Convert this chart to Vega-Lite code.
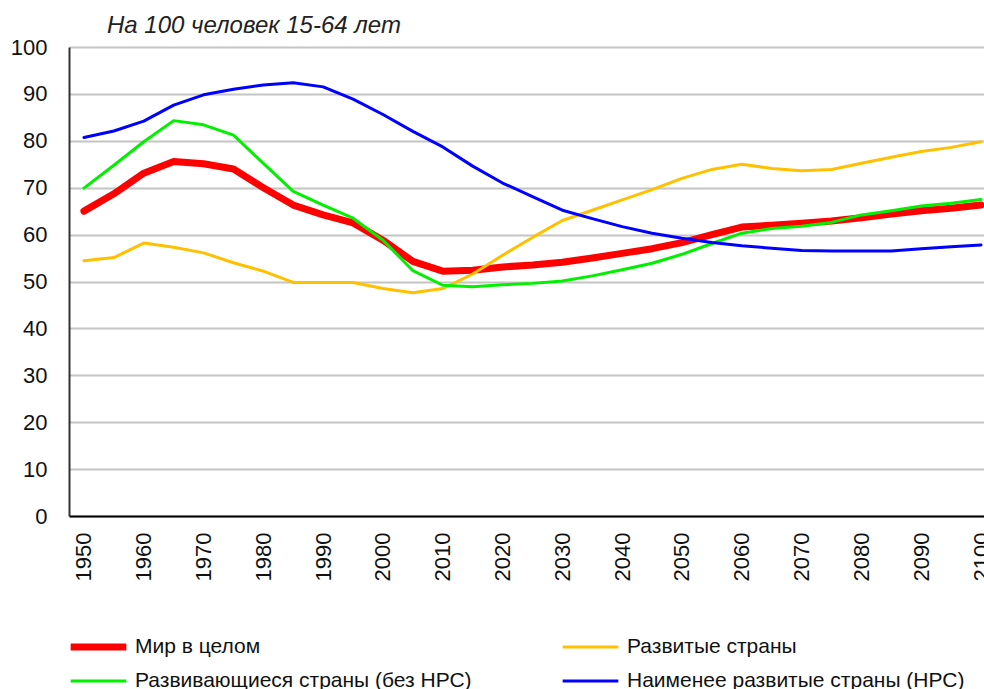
{
  "$schema": "https://vega.github.io/schema/vega-lite/v6.json",
  "autosize": {"type": "none"},
  "width": 915,
  "height": 469,
  "padding": {"left": 69, "top": 47, "right": 0, "bottom": 173},
  "background": "white",
  "config": {
    "view": {"stroke": null},
    "font": "Liberation Sans",
    "legend": {
      "title": null,
      "orient": "none",
      "direction": "horizontal",
      "legendX": -2,
      "legendY": 590,
      "columns": 2,
      "columnPadding": 87,
      "rowPadding": 13,
      "clipHeight": 20,
      "symbolType": "stroke",
      "symbolSize": 3100,
      "labelFontSize": 21,
      "labelColor": "#111111",
      "labelOffset": 5,
      "labelLimit": 500
    }
  },
  "title": {
    "text": "На 100 человек 15-64 лет",
    "anchor": "start",
    "frame": "group",
    "fontStyle": "italic",
    "fontWeight": "normal",
    "fontSize": 24,
    "color": "#222222",
    "dx": 38,
    "offset": -2
  },
  "data": {
    "values": [
      {"year": 1950, "s": "Мир в целом", "v": 65.0},
      {"year": 1955, "s": "Мир в целом", "v": 68.7},
      {"year": 1960, "s": "Мир в целом", "v": 73.1},
      {"year": 1965, "s": "Мир в целом", "v": 75.6},
      {"year": 1970, "s": "Мир в целом", "v": 75.1},
      {"year": 1975, "s": "Мир в целом", "v": 74.0},
      {"year": 1980, "s": "Мир в целом", "v": 70.0},
      {"year": 1985, "s": "Мир в целом", "v": 66.3},
      {"year": 1990, "s": "Мир в целом", "v": 64.2},
      {"year": 1995, "s": "Мир в целом", "v": 62.5},
      {"year": 2000, "s": "Мир в целом", "v": 58.8},
      {"year": 2005, "s": "Мир в целом", "v": 54.3},
      {"year": 2010, "s": "Мир в целом", "v": 52.2},
      {"year": 2015, "s": "Мир в целом", "v": 52.4},
      {"year": 2020, "s": "Мир в целом", "v": 53.1},
      {"year": 2025, "s": "Мир в целом", "v": 53.5},
      {"year": 2030, "s": "Мир в целом", "v": 54.1},
      {"year": 2035, "s": "Мир в целом", "v": 55.0},
      {"year": 2040, "s": "Мир в целом", "v": 56.0},
      {"year": 2045, "s": "Мир в целом", "v": 57.0},
      {"year": 2050, "s": "Мир в целом", "v": 58.3},
      {"year": 2055, "s": "Мир в целом", "v": 60.0},
      {"year": 2060, "s": "Мир в целом", "v": 61.6},
      {"year": 2065, "s": "Мир в целом", "v": 62.0},
      {"year": 2070, "s": "Мир в целом", "v": 62.4},
      {"year": 2075, "s": "Мир в целом", "v": 62.9},
      {"year": 2080, "s": "Мир в целом", "v": 63.6},
      {"year": 2085, "s": "Мир в целом", "v": 64.4},
      {"year": 2090, "s": "Мир в целом", "v": 65.1},
      {"year": 2095, "s": "Мир в целом", "v": 65.6},
      {"year": 2100, "s": "Мир в целом", "v": 66.3},
      {"year": 1950, "s": "Развитые страны", "v": 54.4},
      {"year": 1955, "s": "Развитые страны", "v": 55.1},
      {"year": 1960, "s": "Развитые страны", "v": 58.2},
      {"year": 1965, "s": "Развитые страны", "v": 57.3},
      {"year": 1970, "s": "Развитые страны", "v": 56.1},
      {"year": 1975, "s": "Развитые страны", "v": 54.0},
      {"year": 1980, "s": "Развитые страны", "v": 52.2},
      {"year": 1985, "s": "Развитые страны", "v": 49.8},
      {"year": 1990, "s": "Развитые страны", "v": 49.8},
      {"year": 1995, "s": "Развитые страны", "v": 49.8},
      {"year": 2000, "s": "Развитые страны", "v": 48.5},
      {"year": 2005, "s": "Развитые страны", "v": 47.6},
      {"year": 2010, "s": "Развитые страны", "v": 48.5},
      {"year": 2015, "s": "Развитые страны", "v": 51.6},
      {"year": 2020, "s": "Развитые страны", "v": 55.6},
      {"year": 2025, "s": "Развитые страны", "v": 59.4},
      {"year": 2030, "s": "Развитые страны", "v": 63.0},
      {"year": 2035, "s": "Развитые страны", "v": 65.2},
      {"year": 2040, "s": "Развитые страны", "v": 67.4},
      {"year": 2045, "s": "Развитые страны", "v": 69.6},
      {"year": 2050, "s": "Развитые страны", "v": 72.0},
      {"year": 2055, "s": "Развитые страны", "v": 73.9},
      {"year": 2060, "s": "Развитые страны", "v": 75.0},
      {"year": 2065, "s": "Развитые страны", "v": 74.1},
      {"year": 2070, "s": "Развитые страны", "v": 73.6},
      {"year": 2075, "s": "Развитые страны", "v": 73.9},
      {"year": 2080, "s": "Развитые страны", "v": 75.2},
      {"year": 2085, "s": "Развитые страны", "v": 76.5},
      {"year": 2090, "s": "Развитые страны", "v": 77.7},
      {"year": 2095, "s": "Развитые страны", "v": 78.6},
      {"year": 2100, "s": "Развитые страны", "v": 79.8},
      {"year": 1950, "s": "Развивающиеся страны (без НРС)", "v": 69.9},
      {"year": 1955, "s": "Развивающиеся страны (без НРС)", "v": 74.8},
      {"year": 1960, "s": "Развивающиеся страны (без НРС)", "v": 79.8},
      {"year": 1965, "s": "Развивающиеся страны (без НРС)", "v": 84.3},
      {"year": 1970, "s": "Развивающиеся страны (без НРС)", "v": 83.4},
      {"year": 1975, "s": "Развивающиеся страны (без НРС)", "v": 81.2},
      {"year": 1980, "s": "Развивающиеся страны (без НРС)", "v": 75.2},
      {"year": 1985, "s": "Развивающиеся страны (без НРС)", "v": 69.2},
      {"year": 1990, "s": "Развивающиеся страны (без НРС)", "v": 66.3},
      {"year": 1995, "s": "Развивающиеся страны (без НРС)", "v": 63.5},
      {"year": 2000, "s": "Развивающиеся страны (без НРС)", "v": 58.8},
      {"year": 2005, "s": "Развивающиеся страны (без НРС)", "v": 52.3},
      {"year": 2010, "s": "Развивающиеся страны (без НРС)", "v": 49.2},
      {"year": 2015, "s": "Развивающиеся страны (без НРС)", "v": 48.9},
      {"year": 2020, "s": "Развивающиеся страны (без НРС)", "v": 49.3},
      {"year": 2025, "s": "Развивающиеся страны (без НРС)", "v": 49.6},
      {"year": 2030, "s": "Развивающиеся страны (без НРС)", "v": 50.1},
      {"year": 2035, "s": "Развивающиеся страны (без НРС)", "v": 51.2},
      {"year": 2040, "s": "Развивающиеся страны (без НРС)", "v": 52.5},
      {"year": 2045, "s": "Развивающиеся страны (без НРС)", "v": 53.9},
      {"year": 2050, "s": "Развивающиеся страны (без НРС)", "v": 55.8},
      {"year": 2055, "s": "Развивающиеся страны (без НРС)", "v": 58.1},
      {"year": 2060, "s": "Развивающиеся страны (без НРС)", "v": 60.3},
      {"year": 2065, "s": "Развивающиеся страны (без НРС)", "v": 61.3},
      {"year": 2070, "s": "Развивающиеся страны (без НРС)", "v": 61.8},
      {"year": 2075, "s": "Развивающиеся страны (без НРС)", "v": 62.6},
      {"year": 2080, "s": "Развивающиеся страны (без НРС)", "v": 64.2},
      {"year": 2085, "s": "Развивающиеся страны (без НРС)", "v": 65.1},
      {"year": 2090, "s": "Развивающиеся страны (без НРС)", "v": 66.1},
      {"year": 2095, "s": "Развивающиеся страны (без НРС)", "v": 66.7},
      {"year": 2100, "s": "Развивающиеся страны (без НРС)", "v": 67.5},
      {"year": 1950, "s": "Наименее развитые страны (НРС)", "v": 80.7},
      {"year": 1955, "s": "Наименее развитые страны (НРС)", "v": 82.1},
      {"year": 1960, "s": "Наименее развитые страны (НРС)", "v": 84.2},
      {"year": 1965, "s": "Наименее развитые страны (НРС)", "v": 87.6},
      {"year": 1970, "s": "Наименее развитые страны (НРС)", "v": 89.8},
      {"year": 1975, "s": "Наименее развитые страны (НРС)", "v": 91.0},
      {"year": 1980, "s": "Наименее развитые страны (НРС)", "v": 91.9},
      {"year": 1985, "s": "Наименее развитые страны (НРС)", "v": 92.4},
      {"year": 1990, "s": "Наименее развитые страны (НРС)", "v": 91.5},
      {"year": 1995, "s": "Наименее развитые страны (НРС)", "v": 88.9},
      {"year": 2000, "s": "Наименее развитые страны (НРС)", "v": 85.6},
      {"year": 2005, "s": "Наименее развитые страны (НРС)", "v": 82.0},
      {"year": 2010, "s": "Наименее развитые страны (НРС)", "v": 78.7},
      {"year": 2015, "s": "Наименее развитые страны (НРС)", "v": 74.6},
      {"year": 2020, "s": "Наименее развитые страны (НРС)", "v": 71.0},
      {"year": 2025, "s": "Наименее развитые страны (НРС)", "v": 68.1},
      {"year": 2030, "s": "Наименее развитые страны (НРС)", "v": 65.2},
      {"year": 2035, "s": "Наименее развитые страны (НРС)", "v": 63.4},
      {"year": 2040, "s": "Наименее развитые страны (НРС)", "v": 61.7},
      {"year": 2045, "s": "Наименее развитые страны (НРС)", "v": 60.3},
      {"year": 2050, "s": "Наименее развитые страны (НРС)", "v": 59.2},
      {"year": 2055, "s": "Наименее развитые страны (НРС)", "v": 58.3},
      {"year": 2060, "s": "Наименее развитые страны (НРС)", "v": 57.6},
      {"year": 2065, "s": "Наименее развитые страны (НРС)", "v": 57.1},
      {"year": 2070, "s": "Наименее развитые страны (НРС)", "v": 56.6},
      {"year": 2075, "s": "Наименее развитые страны (НРС)", "v": 56.5},
      {"year": 2080, "s": "Наименее развитые страны (НРС)", "v": 56.5},
      {"year": 2085, "s": "Наименее развитые страны (НРС)", "v": 56.5},
      {"year": 2090, "s": "Наименее развитые страны (НРС)", "v": 57.0},
      {"year": 2095, "s": "Наименее развитые страны (НРС)", "v": 57.4},
      {"year": 2100, "s": "Наименее развитые страны (НРС)", "v": 57.8}
    ]
  },
  "mark": {"type": "line", "strokeCap": "round", "strokeJoin": "round"},
  "encoding": {
    "x": {
      "field": "year",
      "type": "quantitative",
      "scale": {"domain": [1947.5, 2100.5], "nice": false, "zero": false},
      "axis": {
        "title": null,
        "values": [1950, 1960, 1970, 1980, 1990, 2000, 2010, 2020, 2030, 2040, 2050, 2060, 2070, 2080, 2090, 2100],
        "format": "d",
        "labelAngle": -90,
        "labelAlign": "right",
        "labelBaseline": "middle",
        "labelFontSize": 22,
        "labelColor": "#111111",
        "labelPadding": 16,
        "labelFlush": false,
        "labelOverlap": false,
        "ticks": false,
        "grid": false,
        "domainColor": "#000000",
        "domainWidth": 2
      }
    },
    "y": {
      "field": "v",
      "type": "quantitative",
      "scale": {"domain": [0, 100], "nice": false},
      "axis": {
        "title": null,
        "values": [0, 10, 20, 30, 40, 50, 60, 70, 80, 90, 100],
        "labelFontSize": 22,
        "labelColor": "#111111",
        "labelPadding": 22,
        "ticks": false,
        "grid": true,
        "gridColor": "#c4c4c4",
        "gridWidth": 2,
        "domainColor": "#333333",
        "domainWidth": 2
      }
    },
    "color": {
      "field": "s",
      "type": "nominal",
      "sort": null,
      "scale": {
        "domain": ["Мир в целом", "Развитые страны", "Развивающиеся страны (без НРС)", "Наименее развитые страны (НРС)"],
        "range": ["#ff0000", "#ffc000", "#00f000", "#0000ff"]
      }
    },
    "strokeWidth": {
      "field": "s",
      "type": "nominal",
      "sort": null,
      "scale": {
        "type": "ordinal",
        "domain": ["Мир в целом", "Развитые страны", "Развивающиеся страны (без НРС)", "Наименее развитые страны (НРС)"],
        "range": [7, 3, 3, 3]
      }
    }
  }
}
